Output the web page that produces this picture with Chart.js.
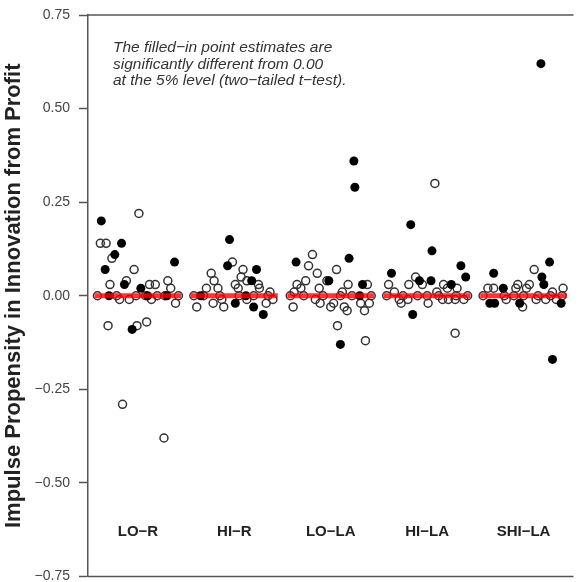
<!DOCTYPE html>
<html>
<head>
<meta charset="utf-8">
<script src="https://cdn.jsdelivr.net/npm/chart.js@4"></script>
<style>
  html, body { margin: 0; padding: 0; background: #fff; overflow: hidden; }
</style>
</head>
<body>
<canvas id="impulseChart" width="579" height="582"></canvas>
<script>
const categories = ["LO\u2212R", "HI\u2212R", "LO\u2212LA", "HI\u2212LA", "SHI\u2212LA"];
const yTicks = [-0.75, -0.5, -0.25, 0, 0.25, 0.5, 0.75];
const labelLevel = -0.63;

// [offset within group, estimate]
const loRFilled = [[-0.38,0.20],[-0.17,0.14],[-0.24,0.11],[0.38,0.09],[-0.34,0.07],[-0.14,0.03],[0.03,0.02],[-0.06,-0.09],[-0.30,0],[0.10,0],[0.30,0]];
const loROpen = [[0.01,0.22],[-0.39,0.14],[-0.33,0.14],[-0.27,0.10],[-0.04,0.07],[-0.29,0.03],[-0.12,0.04],[0.12,0.03],[0.18,0.03],[0.31,0.04],[0.34,0.02],[-0.19,-0.01],[-0.09,-0.01],[0.14,-0.01],[0.39,-0.02],[-0.31,-0.08],[-0.01,-0.08],[0.09,-0.07],[-0.16,-0.29],[0.27,-0.38],[-0.42,0],[-0.22,0],[-0.02,0],[0.08,0],[0.20,0],[0.28,0],[0.42,0]];

const hiRFilled = [[-0.05,0.15],[-0.07,0.08],[0.23,0.07],[0.18,0.04],[0.01,-0.02],[0.20,-0.03],[0.30,-0.05],[-0.35,0],[0.12,0]];
const hiROpen = [[-0.02,0.09],[-0.24,0.06],[-0.21,0.04],[-0.29,0.02],[-0.17,0.02],[0.09,0.07],[0.07,0.05],[0.13,0.04],[0.01,0.03],[0.25,0.03],[0.04,0.02],[0.26,0.02],[0.37,0.01],[-0.39,-0.03],[-0.22,-0.02],[-0.11,-0.03],[-0.13,-0.01],[0.13,-0.01],[0.33,-0.02],[0.40,-0.01],[-0.42,0],[-0.32,0],[-0.15,0],[0.05,0],[0.20,0],[0.35,0]];

const loLAFilled = [[0.24,0.36],[0.25,0.29],[0.19,0.10],[-0.36,0.09],[-0.02,0.04],[0.33,0.03],[0.10,-0.13],[0.30,0]];
const loLAOpen = [[-0.19,0.11],[-0.23,0.08],[-0.14,0.06],[0.06,0.07],[-0.04,0.04],[-0.26,0.04],[-0.35,0.03],[-0.31,0.02],[-0.12,0.02],[0.18,0.03],[0.38,0.03],[-0.38,0.01],[0.12,0.01],[-0.39,-0.03],[-0.16,-0.01],[-0.11,-0.02],[0.00,-0.03],[0.03,-0.02],[0.14,-0.03],[0.17,-0.04],[0.31,-0.02],[0.40,-0.02],[0.35,-0.04],[0.07,-0.08],[0.36,-0.12],[-0.42,0],[-0.28,0],[-0.08,0],[0.10,0],[0.22,0],[0.42,0]];

const hiLAFilled = [[-0.17,0.19],[0.05,0.12],[-0.37,0.06],[0.35,0.08],[0.40,0.05],[-0.08,0.04],[0.04,0.04],[0.25,0.03],[-0.15,-0.05]];
const hiLAOpen = [[0.08,0.30],[-0.12,0.05],[-0.19,0.03],[-0.05,0.03],[-0.40,0.03],[0.17,0.03],[0.31,0.02],[-0.34,0.01],[0.10,0.01],[0.21,0.02],[-0.29,-0.01],[-0.27,-0.02],[-0.20,-0.01],[0.01,-0.02],[0.16,-0.01],[0.22,-0.01],[0.29,-0.01],[0.38,-0.01],[0.29,-0.10],[-0.42,0],[-0.25,0],[-0.10,0],[0.00,0],[0.12,0],[0.30,0],[0.42,0]];

const shiLAFilled = [[0.18,0.62],[0.27,0.09],[-0.31,0.06],[0.19,0.05],[0.21,0.03],[-0.21,0.02],[-0.35,-0.02],[-0.30,-0.02],[-0.04,-0.02],[0.39,-0.02],[0.30,-0.17]];
const shiLAOpen = [[0.11,0.07],[-0.37,0.02],[-0.31,0.02],[-0.06,0.03],[0.06,0.03],[-0.08,0.02],[0.03,0.02],[0.41,0.02],[0.30,0.01],[-0.18,-0.01],[-0.01,-0.03],[0.13,-0.01],[0.23,-0.01],[0.34,-0.01],[-0.42,0],[-0.20,0],[-0.10,0],[0.00,0],[0.15,0],[0.28,0],[0.40,0]];

const filledGroups = [loRFilled, hiRFilled, loLAFilled, hiLAFilled, shiLAFilled];
const openGroups = [loROpen, hiROpen, loLAOpen, hiLAOpen, shiLAOpen];

function toPoints(groups) {
    const pts = [];
    groups.forEach((g, i) => g.forEach(p => pts.push({ x: i + 1 + p[0], y: p[1] })));
    return pts;
}

const zeroLines = categories.map((c, i) => ({
    type: "line",
    data: [{ x: i + 0.55, y: 0 }, { x: i + 1.45, y: 0 }],
    borderColor: "rgba(255,0,0,0.8)",
    borderWidth: 5,
    pointRadius: 0,
    order: 0
}));

const fmt = v => (v < 0 ? "\u2212" : "") + Math.abs(v).toFixed(2);

const decorations = {
    id: "decorations",
    afterDraw(chart) {
        const { ctx, chartArea, scales } = chart;
        ctx.save();
        // top and bottom frame
        ctx.strokeStyle = "#555";
        ctx.lineWidth = 1.5;
        ctx.beginPath();
        ctx.moveTo(chartArea.left, chartArea.top);
        ctx.lineTo(chartArea.right, chartArea.top);
        ctx.moveTo(chartArea.left, chartArea.bottom);
        ctx.lineTo(chartArea.right, chartArea.bottom);
        ctx.stroke();
        // group labels
        ctx.fillStyle = "#222";
        ctx.font = "bold 15px 'Liberation Sans', Arial, sans-serif";
        ctx.textAlign = "center";
        ctx.textBaseline = "middle";
        categories.forEach((c, i) => {
            ctx.fillText(c, scales.x.getPixelForValue(i + 1), scales.y.getPixelForValue(labelLevel));
        });
        // note
        ctx.font = "italic 15.5px 'Liberation Sans', Arial, sans-serif";
        ctx.fillStyle = "#333";
        ctx.textAlign = "left";
        const note = ["The filled\u2212in point estimates are",
                      "significantly different from 0.00",
                      "at the 5% level (two\u2212tailed t\u2212test)."];
        note.forEach((line, k) => ctx.fillText(line, 113, 48 + k * 16.5));
        ctx.restore();
    }
};

new Chart(document.getElementById("impulseChart"), {
    type: "scatter",
    data: {
        datasets: [
            ...zeroLines,
            {
                data: toPoints(filledGroups),
                pointRadius: 4.5,
                pointBackgroundColor: "#000",
                pointBorderWidth: 0,
                order: 1
            },
            {
                data: toPoints(openGroups),
                pointRadius: 4,
                pointBackgroundColor: "rgba(0,0,0,0)",
                pointBorderColor: "#333",
                pointBorderWidth: 1.5,
                order: 2
            }
        ]
    },
    plugins: [decorations],
    options: {
        responsive: false,
        animation: false,
        layout: { padding: { top: 15, bottom: 5, left: 0, right: 0 } },
        plugins: { legend: { display: false }, tooltip: { enabled: false } },
        scales: {
            x: { type: "linear", min: 0.482, max: 5.518, display: false },
            y: {
                min: -0.75,
                max: 0.75,
                afterBuildTicks: axis => { axis.ticks = yTicks.map(v => ({ value: v })); },
                afterFit: axis => {
                    axis.width = 88;
                    axis.paddingTop = 0;
                    axis.paddingBottom = 0;
                },
                border: { color: "#555", width: 1.5 },
                grid: { drawOnChartArea: false, tickLength: 9, color: "#555", tickWidth: 1.5 },
                ticks: {
                    padding: 9,
                    color: "#444",
                    font: { family: "'Liberation Sans', Arial, sans-serif", size: 14 },
                    callback: v => fmt(v)
                },
                title: {
                    display: true,
                    text: "Impulse Propensity in Innovation from Profit",
                    color: "#222",
                    font: { family: "'Liberation Sans', Arial, sans-serif", size: 22, weight: "bold" },
                    padding: { top: 1, bottom: 0 }
                }
            }
        }
    }
});
</script>
</body>
</html>
